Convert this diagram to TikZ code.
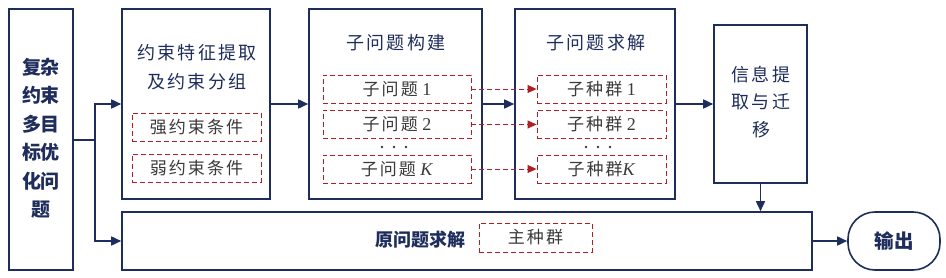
\documentclass[tikz,border=0pt]{standalone}
\usepackage{fontspec}
\setmainfont{Liberation Serif}
\newfontfamily\cjk{Noto Sans CJK SC}
\newfontfamily\cjksp{Noto Sans CJK SC}[LetterSpace=12]
\usetikzlibrary{arrows.meta}
\definecolor{navy}{HTML}{1F2D5C}
\definecolor{dred}{HTML}{B01E22}
\definecolor{tgray}{HTML}{3A3A3A}
\tikzset{
  mainbox/.style={draw=navy, line width=1.6pt, fill=white, inner sep=0pt},
  dbox/.style={draw=dred, line width=0.9pt, dash pattern=on 5pt off 3pt, inner sep=0pt,
    minimum height=28pt, text=tgray, font=\fontsize{18}{18}\selectfont},
  ttl/.style={text=navy, font=\cjksp\fontsize{18}{18}\selectfont, inner sep=0pt},
  arr/.style={draw=navy, line width=1.6pt, -{Triangle[length=10pt,width=9pt]}},
  rarr/.style={draw=dred, line width=0.9pt, dash pattern=on 5pt off 3pt, -{Triangle[length=9pt,width=8pt]}},
  dot/.style={circle, fill=tgray, inner sep=0pt, minimum size=2.6pt},
}
\begin{document}
\begin{tikzpicture}[x=1pt,y=-1pt]
\useasboundingbox (0,0) rectangle (946,278);
% main boxes
\node[mainbox, minimum width=64pt, minimum height=261pt] (L) at (41,139.5) {};
\node[mainbox, minimum width=148pt, minimum height=190pt] (B2) at (196,104) {};
\node[mainbox, minimum width=173pt, minimum height=190pt] (B3) at (395.5,104) {};
\node[mainbox, minimum width=160pt, minimum height=190pt] (B4) at (595,104) {};
\node[mainbox, minimum width=93pt, minimum height=158pt] (B5) at (760.5,104) {};
\node[mainbox, minimum width=690pt, minimum height=58pt] (Bot) at (467,241) {};
\node[mainbox, minimum width=92pt, minimum height=58pt, rounded corners=27pt] (Out) at (894,241) {};
% left text
\foreach \t [count=\i] in {复杂,约束,多目,标优,化问,题}
  \node[ttl, font=\cjk\bfseries\fontsize{19}{19}\selectfont] (Lt\i) at (41,{67+(\i-1)*28.6}) {\t};
% box 2
\node[ttl] (T2a) at (197,53) {约束特征提取};
\node[ttl] (T2b) at (197,82) {及约束分组};
\node[dbox, minimum width=129pt, font=\cjksp\fontsize{17}{17}\selectfont] (C1) at (196.5,127) {强约束条件};
\node[dbox, minimum width=129pt, font=\cjksp\fontsize{17}{17}\selectfont] (C2) at (196.5,168) {弱约束条件};
% box 3
\node[ttl] (T3) at (396,43) {子问题构建};
\node[dbox, minimum width=148pt] (P1) at (397,89) {{\cjksp\fontsize{17}{17}\selectfont 子问题} 1};
\node[dbox, minimum width=148pt] (P2) at (397,124.5) {{\cjksp\fontsize{17}{17}\selectfont 子问题} 2};
\node[dbox, minimum width=148pt] (P3) at (397,169) {{\cjksp\fontsize{17}{17}\selectfont 子问题} \textit{K}};
\foreach \k in {-12,0,12} \node[dot] (d3\k) at ({394+\k},147) {};
% box 4
\node[ttl] (T4) at (596,43) {子问题求解};
\node[dbox, minimum width=129pt] (S1) at (601.5,89) {{\cjksp\fontsize{17}{17}\selectfont 子种群} 1};
\node[dbox, minimum width=129pt] (S2) at (601.5,124.5) {{\cjksp\fontsize{17}{17}\selectfont 子种群} 2};
\node[dbox, minimum width=129pt] (S3) at (601.5,169) {{\cjksp\fontsize{17}{17}\selectfont 子种群}\textit{K}};
\foreach \k in {-12,0,12} \node[dot] (d4\k) at ({598+\k},147) {};
% box 5
\node[ttl] (T5a) at (761,75) {信息提};
\node[ttl] (T5b) at (761,102) {取与迁};
\node[ttl] (T5c) at (761,130) {移};
% bottom
\node[ttl, font=\cjk\bfseries\fontsize{18}{18}\selectfont] (Tb) at (420,240) {原问题求解};
\node[dbox, minimum width=113pt, minimum height=29pt, font=\cjksp\fontsize{17}{17}\selectfont] (M) at (535.5,237.5) {主种群};
% output
\node[ttl, font=\cjk\bfseries\fontsize{19.5}{19.5}\selectfont] (To) at (894,241) {输出};
% connectors
\coordinate (j) at (95,140);
\draw[arr] (L.east |- j) -- (j) |- (B2.west);
\draw[arr] (j) |- (Bot.west);
\draw[arr] (B2.east) -- (B3.west);
\draw[arr] (B3.east) -- (B4.west);
\draw[arr] (B4.east) -- (B5.west);
\draw[arr] (B5.south) -- (B5.south |- Bot.north);
\draw[arr] (Bot.east) -- (Out.west);
\draw[rarr] (P1.east) -- (S1.west);
\draw[rarr] (P2.east) -- (S2.west);
\draw[rarr] (P3.east) -- (S3.west);
\end{tikzpicture}
\end{document}
